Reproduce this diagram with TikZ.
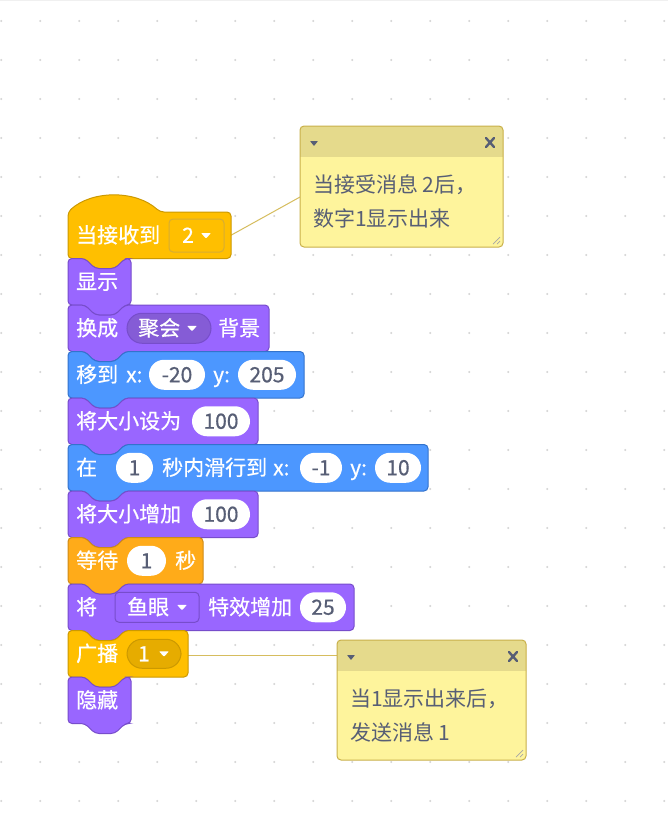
\documentclass[tikz,border=0pt]{standalone}
\usepackage{fontspec}
\setmainfont{Noto Sans CJK SC}
\newfontfamily\blockfam{Noto Sans CJK SC}[FakeBold=0.6]
\usepackage{tikz}

\definecolor{looks}{HTML}{9966FF}
\definecolor{looksEdge}{HTML}{774DCB}
\definecolor{looksMenu}{HTML}{855CD6}
\definecolor{motion}{HTML}{4C97FF}
\definecolor{motionEdge}{HTML}{3373CC}
\definecolor{events}{HTML}{FFBF00}
\definecolor{eventsEdge}{HTML}{CC9900}
\definecolor{eventsMenu}{HTML}{E6AC00}
\definecolor{control}{HTML}{FFAB19}
\definecolor{controlEdge}{HTML}{CF8B17}
\definecolor{slate}{HTML}{575E75}
\definecolor{noteBody}{HTML}{FEF49C}
\definecolor{noteHead}{HTML}{E5DA8C}
\definecolor{noteEdge}{HTML}{C9B04A}
\definecolor{noteLink}{HTML}{D6BD5E}
\definecolor{gridDot}{HTML}{D4D4D4}

\newcommand{\blockfont}{\blockfam\fontsize{21}{25}\selectfont}
\newcommand{\notefont}{\fontsize{21}{25}\selectfont}

% stack block: fill, edge, top, bottom, right
\newcommand{\stackblock}[5]{%
  \filldraw[fill=#1, draw=#2, line width=1, rounded corners=4]
    (68,#3) -- (85,#3) -- (95,#3+10) -- (115,#3+10) -- (125,#3) -- (#5,#3)
    -- (#5,#4) -- (125,#4) -- (115,#4+10) -- (95,#4+10) -- (85,#4) -- (68,#4) -- cycle;}

% small white menu arrow
\newcommand{\menuarrow}[2]{%
  \fill[white, rounded corners=0.8] (#1-5,#2-2.5) -- (#1+5,#2-2.5) -- (#1,#2+3) -- cycle;}

% comment frame: left, top, right, bottom
\newcommand{\notebox}[4]{%
  \fill[noteBody, rounded corners=4] (#1,#2) rectangle (#3,#4);
  \fill[noteHead, rounded corners=4] (#1,#2) rectangle (#3,#2+36);
  \fill[noteBody] (#1,#2+31) rectangle (#3,#2+37);
  \draw[noteEdge, line width=1, rounded corners=4] (#1,#2) rectangle (#3,#4);
  \fill[slate, rounded corners=0.6] (#1+10,#2+15) -- (#1+18,#2+15) -- (#1+14,#2+20) -- cycle;
  \draw[slate, line width=2.4, line cap=round] (#3-17,#2+12) -- (#3-9,#2+21) (#3-17,#2+21) -- (#3-9,#2+12);
  \draw[gray!70, line width=0.7] (#3-3,#4-10) -- (#3-10,#4-3) (#3-3,#4-6) -- (#3-6,#4-3);}

\begin{document}
\begin{tikzpicture}[
    x=1pt, y=-1pt,
    lbl/.style={anchor=base west, inner sep=0, text=white, font=\blockfont},
    notetext/.style={anchor=base west, inner sep=0, text=slate, font=\notefont},
    slot/.style={fill=white, rounded corners=15, minimum height=30, inner sep=0, text=slate, font=\blockfont},
    menupill/.style={rounded corners=15, minimum height=30, inner sep=0, line width=1},
    menubox/.style={rounded corners=4, inner sep=0, line width=1},
    link/.style={draw=noteLink, line width=1}
]
\useasboundingbox (0,0) rectangle (668,820);
\fill[white] (0,0) rectangle (668,820);
\draw[gray!12] (0,0.5) -- (668,0.5);

% Grid dots
\foreach \i in {0,...,17}
  \foreach \j in {0,...,20}
    \fill[gridDot] (1.3+39*\i,21+39*\j) circle (1.1);

% Comment links
\coordinate (hatR) at (231,235.25);
\coordinate (pin1) at (300,197);
\coordinate (castR) at (188,655);
\coordinate (pin2) at (337,655);
\draw[link] (hatR) -- (pin1);
\draw[link] (castR) -- (pin2);

% Hat block
\filldraw[fill=events, draw=eventsEdge, line width=1, rounded corners=4]
  (68,212) .. controls (92,190) and (136,190) .. (160,212) -- (231,212)
  -- (231,258.5) -- (125,258.5) -- (115,268.5) -- (95,268.5) -- (85,258.5) -- (68,258.5) -- cycle;

% Stack blocks
\stackblock{looks}{looksEdge}{258.5}{305}{131}
\stackblock{looks}{looksEdge}{305}{351.5}{269}
\stackblock{motion}{motionEdge}{351.5}{398}{304}
\stackblock{looks}{looksEdge}{398}{444.5}{258}
\stackblock{motion}{motionEdge}{444.5}{491}{428}
\stackblock{looks}{looksEdge}{491}{537.5}{258}
\stackblock{control}{controlEdge}{537.5}{584}{203}
\stackblock{looks}{looksEdge}{584}{630.5}{354}
\stackblock{events}{eventsEdge}{630.5}{677}{188}
\stackblock{looks}{looksEdge}{677}{723.5}{131}

% When I receive
\node[lbl] (recv) at (76,242.75) {当接收到};
\node[menubox, fill=events, draw=eventsEdge!80, minimum width=55, minimum height=33] (recvmenu) at (196.5,235.5) {};
\node[lbl] (recvval) at (182,242.75) {2};
\menuarrow{206}{235.5}

% Show
\node[lbl] (show) at (76,289.25) {显示};

% Switch backdrop
\node[lbl] (switch) at (76,335.75) {换成};
\node[menupill, fill=looksMenu, draw=looksEdge, minimum width=84] (bgmenu) at (169,328.25) {};
\node[lbl] (bgname) at (138,335.75) {聚会};
\menuarrow{192}{328.25}
\node[lbl] (bgword) at (218,335.75) {背景};

% Go to x y
\node[lbl] (goto) at (76,382.25) {移到};
\node[lbl] (gotox) at (126,382.25) {x:};
\node[slot, minimum width=56] (gotoxv) at (177,374.75) {-20};
\node[lbl] (gotoy) at (213,382.25) {y:};
\node[slot, minimum width=58] (gotoyv) at (267,374.75) {205};

% Set size
\node[lbl] (setsize) at (76,428.75) {将大小设为};
\node[slot, minimum width=58] (setsizev) at (221,421.25) {100};

% Glide
\node[lbl] (glide) at (76,475.25) {在};
\node[slot, minimum width=37] (glidet) at (134.5,467.75) {1};
\node[lbl] (glideto) at (162,475.25) {秒内滑行到};
\node[lbl] (glidex) at (273,475.25) {x:};
\node[slot, minimum width=42] (glidexv) at (321,467.75) {-1};
\node[lbl] (glidey) at (350,475.25) {y:};
\node[slot, minimum width=46] (glideyv) at (398,467.75) {10};

% Change size
\node[lbl] (chsize) at (76,521.75) {将大小增加};
\node[slot, minimum width=58] (chsizev) at (221,514.25) {100};

% Wait
\node[lbl] (wait) at (76,568.25) {等待};
\node[slot, minimum width=39] (waitv) at (146.5,560.75) {1};
\node[lbl] (waitsec) at (175,568.25) {秒};

% Change effect
\node[lbl] (effect) at (76,614.75) {将};
\node[menubox, fill=looks, draw=looksEdge, minimum width=84, minimum height=30] (fxmenu) at (157,607.25) {};
\node[lbl] (fxname) at (127,614.75) {鱼眼};
\menuarrow{182}{607.25}
\node[lbl] (fxword) at (208,614.75) {特效增加};
\node[slot, minimum width=46] (fxv) at (323,607.25) {25};

% Broadcast
\node[lbl] (cast) at (76,661.25) {广播};
\node[menupill, fill=eventsMenu, draw=eventsEdge, minimum width=54, minimum height=29] (castmenu) at (154,653.75) {};
\node[lbl] (castval) at (138,661.25) {1};
\menuarrow{164}{653.75}

% Hide
\node[lbl] (hide) at (76,707.75) {隐藏};

% Comments
\notebox{300}{126}{503}{247}
\node[notetext] (note1a) at (313,192.5) {当接受消息 2后，};
\node[notetext] (note1b) at (313,226.5) {数字1显示出来};

\notebox{337}{640}{526}{760}
\node[notetext] (note2a) at (350,706.5) {当1显示出来后，};
\node[notetext] (note2b) at (350,740.5) {发送消息 1};

\end{tikzpicture}
\end{document}
